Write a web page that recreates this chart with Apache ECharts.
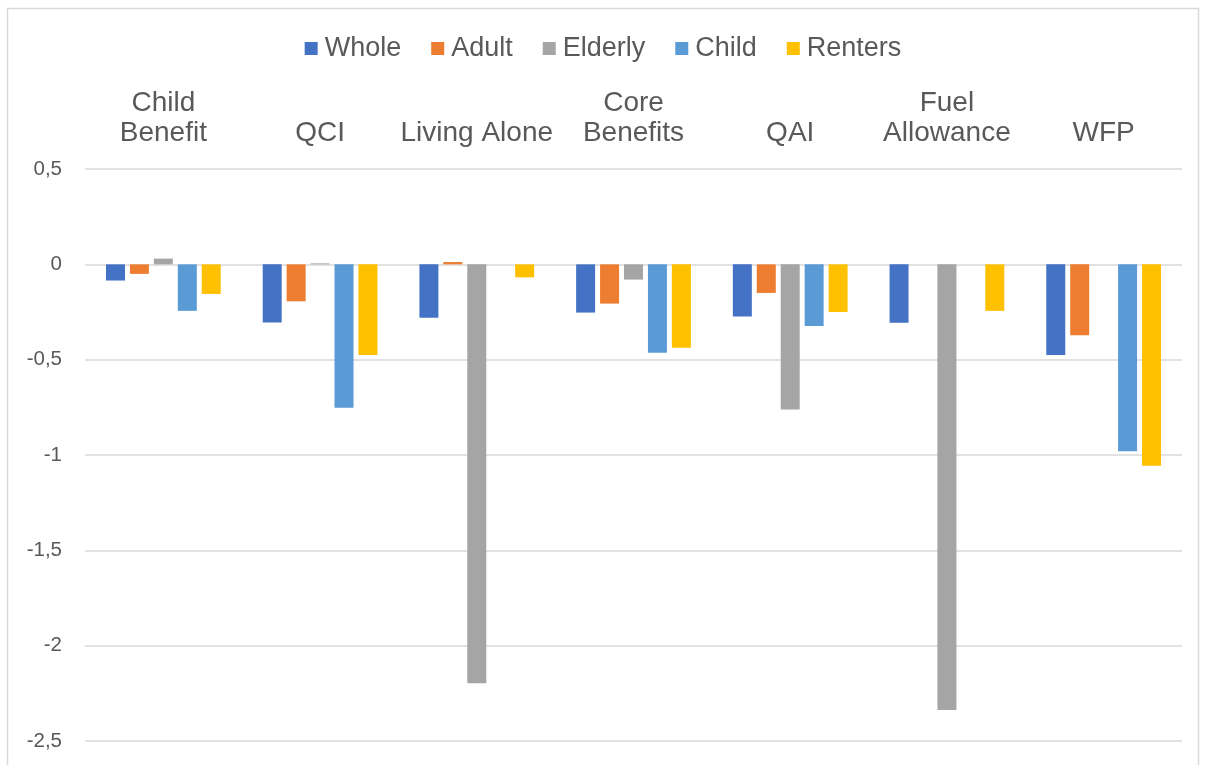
<!DOCTYPE html>
<html>
<head>
<meta charset="utf-8">
<script src="https://cdn.jsdelivr.net/npm/echarts@6/dist/echarts.min.js"></script>
<style>
  html, body { margin: 0; padding: 0; background: #fff; }
  #chart { width: 1206px; height: 765px; }
</style>
</head>
<body>
<div id="chart"></div>
<script>
var categories = ['Child\nBenefit', 'QCI', 'Living Alone', 'Core\nBenefits', 'QAI', 'Fuel\nAllowance', 'WFP'];

var whole   = [-0.085, -0.305, -0.28, -0.253, -0.274, -0.306, -0.475];
var adult   = [-0.05, -0.194, 0.012, -0.206, -0.15, null, -0.372];
var elderly = [0.03, 0.005, -2.197, -0.08, -0.761, -2.337, null];
var child   = [-0.244, -0.752, null, -0.464, -0.323, null, -0.98];
var renters = [-0.155, -0.476, -0.068, -0.438, -0.25, -0.244, -1.056];

var seriesNames = ['Whole', 'Adult', 'Elderly', 'Child', 'Renters'];
var seriesData = [whole, adult, elderly, child, renters];
var colors = ['#4472C4', '#ED7D31', '#A5A5A5', '#5B9BD5', '#FFC000'];

var chart = echarts.init(document.getElementById('chart'));

var textColor = '#595959';
var font = 'Liberation Sans, Arial, sans-serif';

var series = seriesNames.map(function(name, i) {
    return {
        name: name,
        type: 'bar',
        data: seriesData[i],
        barWidth: 19,
        barGap: '26%',
        itemStyle: { color: colors[i] }
    };
});

var option = {
    animation: false,
    textStyle: { fontFamily: font },
    color: colors,
    graphic: [{
        type: 'rect',
        shape: { x: 7.5, y: 8.5, width: 1191, height: 800 },
        style: { fill: 'none', stroke: '#D9D9D9', lineWidth: 1.5 },
        silent: true
    }],
    legend: {
        top: 30,
        left: 'center',
        icon: 'rect',
        itemWidth: 13,
        itemHeight: 13,
        itemGap: 30,
        textStyle: { fontSize: 27, color: textColor, fontFamily: font, padding: [0, 0, 0, 2] },
        data: seriesNames
    },
    grid: { left: 85, right: 24, top: 169, bottom: 24 },
    xAxis: {
        type: 'category',
        position: 'top',
        data: categories,
        axisLine: { show: false },
        axisTick: { show: false },
        axisLabel: {
            interval: 0,
            fontSize: 28,
            lineHeight: 30,
            color: textColor,
            fontFamily: font,
            margin: 21
        }
    },
    yAxis: {
        type: 'value',
        min: -2.5,
        max: 0.5,
        interval: 0.5,
        axisLine: { show: false },
        axisTick: { show: false },
        splitLine: { lineStyle: { color: '#D9D9D9', width: 1.5 } },
        axisLabel: {
            fontSize: 20.5,
            color: textColor,
            fontFamily: font,
            margin: 23,
            formatter: function(v) { return String(v).replace('.', ','); }
        }
    },
    series: series
};

chart.setOption(option);
</script>
</body>
</html>
